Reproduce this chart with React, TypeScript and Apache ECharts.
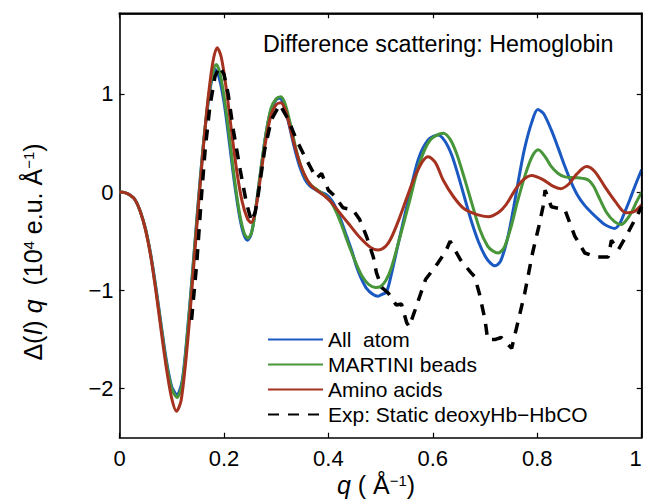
import React, { useEffect, useRef } from "react";
import * as echarts from "echarts";

const seriesNames = ["All  atom", "MARTINI beads", "Amino acids", "Exp: Static deoxyHb\u2212HbCO"];

const yTicks = [-2, -1, 0, 1];

const allAtom: number[][] = [
  [0, 0], [0.01, -0.005], [0.02, -0.03], [0.03, -0.08], [0.04, -0.2], [0.05, -0.38], [0.06, -0.64],
  [0.07, -0.98], [0.08, -1.36], [0.09, -1.72], [0.1, -1.98], [0.11, -2.06], [0.12, -1.92], [0.13, -1.42],
  [0.14, -0.8], [0.15, -0.15], [0.16, 0.45], [0.17, 0.92], [0.177, 1.15], [0.183, 1.25], [0.19, 1.18],
  [0.2, 0.92], [0.21, 0.52], [0.22, 0.1], [0.23, -0.25], [0.238, -0.43], [0.245, -0.49], [0.252, -0.43],
  [0.26, -0.2], [0.27, 0.2], [0.28, 0.58], [0.29, 0.84], [0.3, 0.94], [0.307, 0.955], [0.315, 0.88],
  [0.325, 0.68], [0.335, 0.45], [0.345, 0.26], [0.355, 0.13], [0.365, 0.06], [0.38, 0.01], [0.397, -0.03],
  [0.407, -0.09], [0.416, -0.18], [0.425, -0.3], [0.435, -0.45], [0.445, -0.6], [0.454, -0.76],
  [0.463, -0.88], [0.473, -0.98], [0.485, -1.04], [0.495, -1.06], [0.503, -1.04], [0.511, -1.02],
  [0.52, -0.85], [0.534, -0.52], [0.553, -0.08], [0.572, 0.33], [0.591, 0.53], [0.61, 0.58], [0.623, 0.52],
  [0.636, 0.38], [0.648, 0.18], [0.661, -0.06], [0.674, -0.3], [0.687, -0.5], [0.7, -0.65], [0.71, -0.72],
  [0.719, -0.75], [0.73, -0.7], [0.744, -0.45], [0.755, -0.15], [0.765, 0.15], [0.776, 0.45], [0.79, 0.72],
  [0.801, 0.84], [0.812, 0.8], [0.827, 0.63], [0.84, 0.45], [0.853, 0.26], [0.865, 0.1], [0.878, -0.04],
  [0.89, -0.13], [0.904, -0.21], [0.918, -0.28], [0.929, -0.33], [0.948, -0.37], [0.958, -0.32],
  [0.967, -0.21], [0.977, -0.08], [0.987, 0.06], [1.0, 0.23],
];

const martini: number[][] = [
  [0, 0], [0.01, -0.005], [0.02, -0.03], [0.03, -0.08], [0.04, -0.2], [0.05, -0.38], [0.06, -0.65],
  [0.07, -1.0], [0.08, -1.38], [0.09, -1.75], [0.1, -2.0], [0.11, -2.09], [0.12, -1.95], [0.13, -1.45],
  [0.14, -0.82], [0.15, -0.17], [0.16, 0.45], [0.17, 0.95], [0.178, 1.2], [0.185, 1.3], [0.192, 1.22],
  [0.2, 0.98], [0.21, 0.58], [0.22, 0.14], [0.23, -0.22], [0.239, -0.42], [0.246, -0.47], [0.253, -0.41],
  [0.26, -0.2], [0.27, 0.2], [0.28, 0.58], [0.29, 0.85], [0.3, 0.95], [0.309, 0.97], [0.317, 0.9],
  [0.327, 0.7], [0.337, 0.46], [0.347, 0.27], [0.357, 0.14], [0.367, 0.07], [0.38, 0.02], [0.395, -0.04],
  [0.405, -0.1], [0.415, -0.2], [0.425, -0.33], [0.435, -0.48], [0.445, -0.62], [0.455, -0.75],
  [0.465, -0.86], [0.477, -0.94], [0.49, -0.97], [0.5, -0.96], [0.51, -0.9], [0.52, -0.78], [0.535, -0.5],
  [0.555, -0.1], [0.575, 0.3], [0.595, 0.53], [0.62, 0.6], [0.633, 0.54], [0.645, 0.4], [0.66, 0.15],
  [0.675, -0.12], [0.69, -0.38], [0.705, -0.55], [0.715, -0.6], [0.725, -0.62], [0.737, -0.56],
  [0.75, -0.35], [0.762, -0.1], [0.776, 0.16], [0.79, 0.36], [0.802, 0.43], [0.815, 0.36], [0.827, 0.26],
  [0.84, 0.19], [0.853, 0.155], [0.878, 0.145], [0.897, 0.125], [0.908, 0.06], [0.917, -0.04],
  [0.933, -0.21], [0.948, -0.3], [0.961, -0.33], [0.97, -0.29], [0.98, -0.21], [0.99, -0.1], [1.0, 0.0],
];

const aminoAcids: number[][] = [
  [0, 0], [0.01, -0.005], [0.02, -0.03], [0.03, -0.08], [0.04, -0.2], [0.05, -0.39], [0.06, -0.66],
  [0.07, -1.02], [0.08, -1.42], [0.09, -1.8], [0.1, -2.1], [0.109, -2.23], [0.118, -2.12], [0.13, -1.55],
  [0.14, -0.9], [0.15, -0.22], [0.16, 0.42], [0.17, 0.97], [0.179, 1.33], [0.187, 1.47], [0.195, 1.37],
  [0.205, 1.03], [0.215, 0.6], [0.225, 0.2], [0.235, -0.1], [0.245, -0.27], [0.252, -0.31], [0.26, -0.2],
  [0.27, 0.15], [0.28, 0.52], [0.29, 0.78], [0.3, 0.89], [0.309, 0.91], [0.318, 0.83], [0.326, 0.67],
  [0.335, 0.48], [0.345, 0.3], [0.355, 0.17], [0.365, 0.08], [0.375, 0.03], [0.385, -0.01], [0.395, -0.05],
  [0.405, -0.1], [0.42, -0.2], [0.44, -0.33], [0.46, -0.46], [0.48, -0.56], [0.495, -0.59], [0.51, -0.55],
  [0.52, -0.47], [0.535, -0.28], [0.55, -0.06], [0.565, 0.15], [0.58, 0.31], [0.591, 0.36], [0.605, 0.3],
  [0.62, 0.12], [0.64, -0.05], [0.66, -0.17], [0.685, -0.23], [0.706, -0.25], [0.725, -0.21],
  [0.74, -0.13], [0.755, 0.0], [0.77, 0.11], [0.789, 0.17], [0.81, 0.13], [0.83, 0.06], [0.845, 0.035],
  [0.86, 0.08], [0.875, 0.18], [0.894, 0.26], [0.91, 0.21], [0.93, 0.05], [0.95, -0.1], [0.97, -0.21],
  [0.985, -0.2], [1.0, -0.13],
];

const experiment: number[][] = [
  [0.138, -1.3], [0.148, -0.72], [0.157, -0.04], [0.164, 0.43], [0.173, 0.87], [0.183, 1.18],
  [0.192, 1.28], [0.2, 1.2], [0.208, 1.0], [0.218, 0.63], [0.231, 0.23], [0.243, -0.11], [0.253, -0.3],
  [0.26, -0.2], [0.266, -0.01], [0.278, 0.43], [0.291, 0.74], [0.307, 0.89], [0.323, 0.74],
  [0.339, 0.53], [0.355, 0.36], [0.368, 0.23], [0.377, 0.14], [0.387, 0.19], [0.4, 0.02], [0.412, -0.04],
  [0.428, -0.16], [0.447, -0.18], [0.46, -0.28], [0.473, -0.45], [0.486, -0.66], [0.492, -0.82],
  [0.502, -0.97], [0.515, -1.03], [0.53, -1.15], [0.54, -1.14], [0.55, -1.33], [0.555, -1.37],
  [0.566, -1.2], [0.586, -0.89], [0.61, -0.72], [0.625, -0.6], [0.633, -0.5], [0.653, -0.69],
  [0.673, -0.82], [0.68, -0.86], [0.689, -1.03], [0.7, -1.3], [0.705, -1.5], [0.72, -1.5], [0.731, -1.48],
  [0.751, -1.59], [0.764, -1.3], [0.776, -1.03], [0.791, -0.62], [0.803, -0.35], [0.811, -0.15],
  [0.815, 0.02], [0.827, -0.15], [0.853, -0.18], [0.872, -0.45], [0.891, -0.62], [0.913, -0.66],
  [0.936, -0.66], [0.942, -0.49], [0.955, -0.59], [0.974, -0.41], [0.987, -0.28], [1.0, -0.15],
];

const colors = ["#1a58c2", "#48963a", "#a5311f", "#000000"];

const FONT = "'Liberation Sans', Arial, Helvetica, sans-serif";

function fmtY(v: number): string {
  return v < 0 ? "\u2212" + Math.abs(v) : String(v);
}

export default function App() {
  const ref = useRef<HTMLDivElement>(null);
  useEffect(() => {
    if (!ref.current) return;
    const chart = echarts.init(ref.current, undefined, { renderer: "svg" });
    const axisLine = { show: true, onZero: false, lineStyle: { color: "#000", width: 1.6 } };
    const tick = { show: true, inside: true, length: 5, lineStyle: { color: "#000", width: 1.2 } };
    const datasets = [allAtom, martini, aminoAcids, experiment];
    const rich = {
      n: { fontSize: 25, fontFamily: FONT, fill: "#000", lineHeight: 24, verticalAlign: "bottom" },
      i: { fontSize: 25, fontFamily: FONT, fontStyle: "italic", fill: "#000", lineHeight: 24, verticalAlign: "bottom" },
      s: { fontSize: 15, fontFamily: FONT, fill: "#000", lineHeight: 24, verticalAlign: "top" },
    };
    const G = { left: 119.5, right: 4.3, top: 13.3, bottom: 62.3 };
    const option: any = {
      animation: false,
      backgroundColor: "#fff",
      textStyle: { fontFamily: FONT },
      title: {
        text: "Difference scattering: Hemoglobin",
        left: 263,
        top: 32,
        padding: 0,
        textStyle: { fontFamily: FONT, fontSize: 23.3, fontWeight: "normal", color: "#000" },
      },
      legend: {
        orient: "vertical",
        left: 267,
        top: 329,
        padding: 0,
        itemWidth: 55,
        itemHeight: 14,
        itemGap: 4,
        data: seriesNames,
        itemStyle: { opacity: 0 },
        textStyle: { fontFamily: FONT, fontSize: 21, color: "#000" },
      },
      grid: {
        ...G,
        containLabel: false,
        outerBoundsMode: "none",
        show: false,
      },
      xAxis: [
        {
          type: "value",
          min: 0,
          max: 1,
          interval: 0.2,
          axisLine,
          axisTick: tick,
          splitLine: { show: false },
          axisLabel: {
            margin: 10,
            fontSize: 22,
            color: "#000",
            fontFamily: FONT,
            alignMaxLabel: "right",
            formatter: (v: number) => String(Math.round(v * 10) / 10),
          },
        },
        {
          type: "value",
          position: "top",
          min: 0,
          max: 1,
          interval: 0.2,
          axisLine,
          axisTick: tick,
          splitLine: { show: false },
          axisLabel: { show: false },
        },
      ],
      yAxis: [
        {
          type: "value",
          min: -2.5,
          max: 1.82,
          axisLine,
          axisTick: { ...tick, customValues: yTicks },
          splitLine: { show: false },
          axisLabel: {
            customValues: yTicks,
            margin: 6,
            fontSize: 22,
            color: "#000",
            fontFamily: FONT,
            formatter: (v: number) => fmtY(v),
          },
        },
        {
          type: "value",
          position: "right",
          min: -2.5,
          max: 1.82,
          axisLine,
          axisTick: { ...tick, customValues: yTicks },
          splitLine: { show: false },
          axisLabel: { show: false },
        },
      ],
      series: seriesNames.map((name, i) => ({
        name,
        type: "line",
        data: datasets[i],
        xAxisIndex: 0,
        yAxisIndex: 0,
        symbol: "none",
        smooth: i < 3 ? 0.3 : false,
        clip: true,
        z: 2 + i,
        lineStyle: {
          color: colors[i],
          width: i < 3 ? 3 : 3.5,
          type: i < 3 ? "solid" : [11, 9],
        },
        itemStyle: { color: colors[i] },
      })),
      graphic: [
        {
          type: "line",
          silent: true,
          z: 50,
          shape: { x1: G.left - 0.8, y1: 13.5, x2: 646 - G.right + 0.8, y2: 13.5 },
          style: { stroke: "#000", lineWidth: 1.8 },
        },
        {
          type: "line",
          silent: true,
          z: 50,
          shape: { x1: 646 - G.right, y1: 13.5, x2: 646 - G.right, y2: 500 - G.bottom },
          style: { stroke: "#000", lineWidth: 1.6 },
        },
        {
          type: "text",
          x: 33,
          y: 252,
          rotation: Math.PI / 2,
          style: {
            text: "{n|\u0394(}{i|I}{n|)}{i| q}{n|  (10}{s|4}{n| e.u. \u00c5}{s|\u22121}{n|)}",
            align: "center",
            verticalAlign: "middle",
            fill: "#000",
            font: `25px ${FONT}`,
            rich,
          },
        },
        {
          type: "text",
          x: 376,
          y: 485,
          style: {
            text: "{i|q}{n| ( \u00c5}{s|\u22121}{n|)}",
            align: "center",
            verticalAlign: "middle",
            fill: "#000",
            font: `24px ${FONT}`,
            rich,
          },
        },
      ],
    };
    chart.setOption(option);
    return () => chart.dispose();
  }, []);
  return <div ref={ref} style={{ width: 646, height: 500, position: "absolute", left: 0, top: 0 }} />;
}
